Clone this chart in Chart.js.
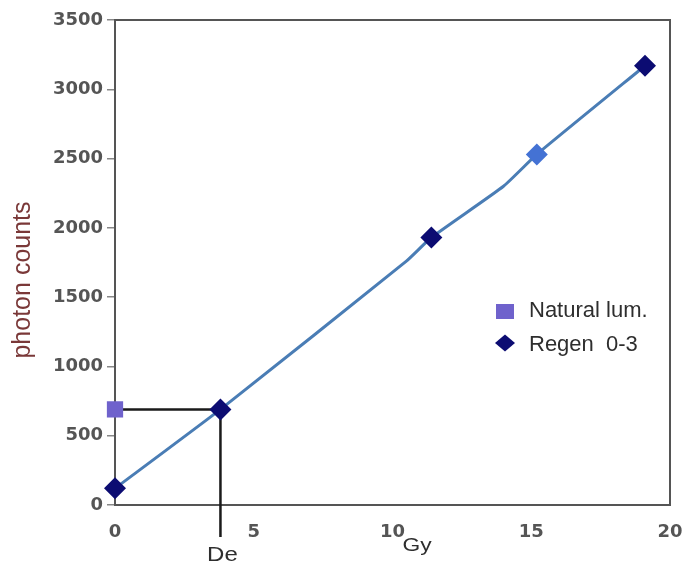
<!DOCTYPE html>
<html>
<head>
<meta charset="utf-8">
<title>Dose response - photon counts</title>
<script src="https://cdn.jsdelivr.net/npm/chart.js@4.4.1/dist/chart.umd.min.js"></script>
<style>
    html, body { margin: 0; padding: 0; background: #fff; }
    #wrap { width: 682px; height: 563px; position: relative; }
</style>
</head>
<body>
<div id="wrap"><canvas id="doseChart"></canvas></div>
<script>
// Regenerated doses (Gy) and their photon counts
const regenDose = [0, 3.8, 11.4, 15.2, 19.1];
const regenCounts = [120, 690, 1930, 2530, 3170];
// Natural luminescence reading
const naturalDose = [0];
const naturalCounts = [690];
// Growth curve through the regen points
const fitDose = [0, 3.8, 10.5, 11.4, 14, 15.2, 19.1];
const fitCounts = [120, 690, 1760, 1930, 2300, 2530, 3170];
// Equivalent dose
const deValue = 3.8;
// Axis ticks
const xTicks = [0, 5, 10, 15, 20];
const yTicks = [0, 500, 1000, 1500, 2000, 2500, 3000, 3500];

const colors = {
    regen: '#0c0c72',
    regenLight: '#4472d4',
    natural: '#6f62cc',
    fit: '#4a7db5',
    guide: '#1a1a1a',
    axis: '#555555',
    tick: '#555555',
    title: '#7a3838',
    text: '#2e2e2e'
};

const FONT = '"Liberation Sans", Arial, sans-serif';

// draw text stretched horizontally like the original scan
function stretchText(ctx, text, cx, baseline, size, sx, color) {
    ctx.save();
    ctx.translate(cx, baseline);
    ctx.scale(sx, 1);
    ctx.font = size + 'px ' + FONT;
    ctx.fillStyle = color;
    ctx.textAlign = 'center';
    ctx.textBaseline = 'alphabetic';
    ctx.fillText(text, 0, 0);
    ctx.restore();
}

const decorPlugin = {
    id: 'decor',
    beforeDatasetsDraw(chart) {
        const { ctx, chartArea: a, scales: { x, y } } = chart;
        ctx.save();
        // top and right frame
        ctx.strokeStyle = colors.axis;
        ctx.lineWidth = 2;
        ctx.beginPath();
        ctx.moveTo(a.left, a.top);
        ctx.lineTo(a.right, a.top);
        ctx.lineTo(a.right, a.bottom);
        ctx.stroke();

        // De guide: across from the natural reading, then down past the axis
        const gy = y.getPixelForValue(naturalCounts[0]);
        const gx = x.getPixelForValue(deValue);
        ctx.strokeStyle = colors.guide;
        ctx.lineWidth = 2.5;
        ctx.beginPath();
        ctx.moveTo(x.getPixelForValue(naturalDose[0]), gy);
        ctx.lineTo(gx, gy);
        ctx.lineTo(gx, a.bottom + 32);
        ctx.stroke();
        ctx.restore();
    },
    afterDraw(chart) {
        const { ctx, scales: { x } } = chart;

        // y axis title
        ctx.save();
        ctx.translate(23, 280);
        ctx.rotate(-Math.PI / 2);
        ctx.font = '25px ' + FONT;
        ctx.fillStyle = colors.title;
        ctx.textAlign = 'center';
        ctx.textBaseline = 'middle';
        ctx.fillText('photon counts', 0, 0);
        ctx.restore();

        // x axis labels
        stretchText(ctx, 'De', x.getPixelForValue(deValue) + 2, 561, 20, 1.2, colors.text);
        stretchText(ctx, 'Gy', 417, 551, 19, 1.2, colors.text);

        // legend
        ctx.save();
        ctx.fillStyle = colors.natural;
        ctx.fillRect(496, 304, 18, 15);

        ctx.fillStyle = colors.regen;
        ctx.beginPath();
        ctx.moveTo(495, 343);
        ctx.lineTo(505, 334.5);
        ctx.lineTo(515, 343);
        ctx.lineTo(505, 351.5);
        ctx.closePath();
        ctx.fill();

        ctx.font = '22px ' + FONT;
        ctx.fillStyle = colors.text;
        ctx.textAlign = 'left';
        ctx.textBaseline = 'alphabetic';
        ctx.fillText(chart.data.datasets[2].label, 529, 317);
        ctx.fillText(chart.data.datasets[1].label, 529, 351);
        ctx.restore();
    }
};

const toPoints = (xs, ys) => xs.map((v, i) => ({ x: v, y: ys[i] }));
const tickFont = { family: 'DejaVu Sans', size: 18, weight: 'bold' };

const ctx = document.getElementById('doseChart');
new Chart(ctx, {
    type: 'scatter',
    data: {
        datasets: [
            {
                label: 'fit',
                data: toPoints(fitDose, fitCounts),
                showLine: true,
                borderColor: colors.fit,
                borderWidth: 3,
                pointRadius: 0,
                tension: 0.15,
                order: 3
            },
            {
                label: 'Regen  0-3',
                data: toPoints(regenDose, regenCounts),
                pointStyle: 'rectRot',
                pointRadius: 11,
                pointBackgroundColor: regenDose.map((d, i) => i === 3 ? colors.regenLight : colors.regen),
                pointBorderWidth: 0,
                clip: false,
                order: 1
            },
            {
                label: 'Natural lum.',
                data: toPoints(naturalDose, naturalCounts),
                pointStyle: 'rect',
                pointRadius: 11.5,
                pointBackgroundColor: colors.natural,
                pointBorderWidth: 0,
                clip: false,
                order: 2
            }
        ]
    },
    options: {
        responsive: true,
        maintainAspectRatio: false,
        animation: false,
        layout: { padding: { left: 0, top: 20, right: 12, bottom: 0 } },
        plugins: {
            legend: { display: false },
            tooltip: { enabled: false }
        },
        scales: {
            x: {
                type: 'linear',
                min: 0,
                max: 20,
                afterBuildTicks: s => { s.ticks = xTicks.map(v => ({ value: v })); },
                afterFit: s => { s.height = 58; s.paddingRight = 0; s.paddingLeft = 0; },
                grid: { display: false },
                border: { display: true, color: colors.axis, width: 2 },
                ticks: {
                    padding: 9,
                    color: colors.tick,
                    font: tickFont,
                    callback: v => String(v)
                }
            },
            y: {
                type: 'linear',
                min: 0,
                max: 3500,
                afterBuildTicks: s => { s.ticks = yTicks.map(v => ({ value: v })); },
                afterFit: s => { s.width = 115; },
                grid: { drawOnChartArea: false, drawTicks: true, tickLength: 8, color: '#888', lineWidth: 1.5 },
                border: { display: true, color: colors.axis, width: 2 },
                ticks: {
                    padding: 4,
                    color: colors.tick,
                    font: tickFont,
                    callback: v => String(v)
                }
            }
        }
    },
    plugins: [decorPlugin]
});
</script>
</body>
</html>
